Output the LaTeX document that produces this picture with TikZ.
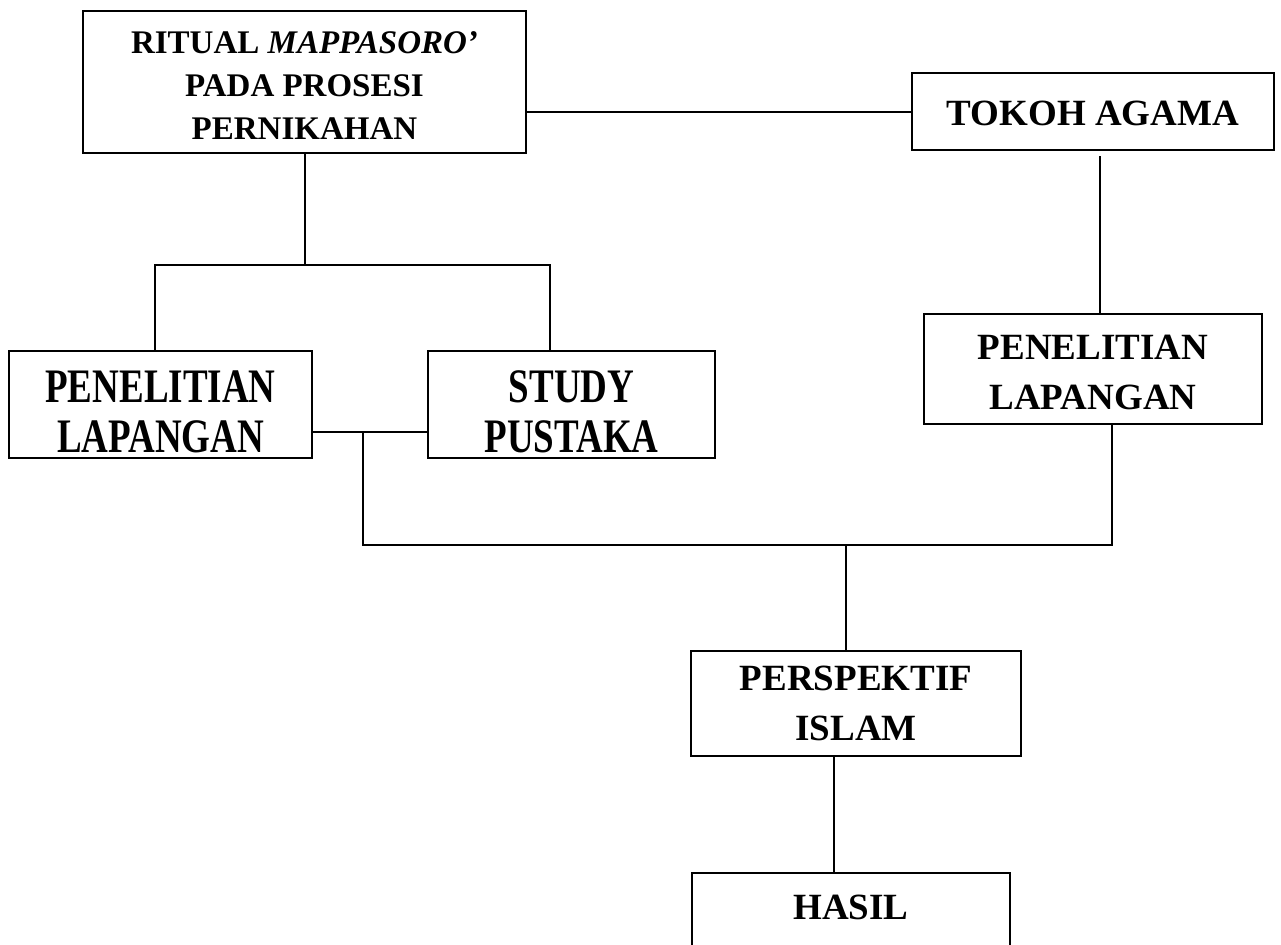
\documentclass[tikz,border=0pt]{standalone}
\usepackage{fontspec}
\usepackage{graphicx}
\setmainfont{Liberation Serif}
% tall condensed line, as in the two left boxes
\newcommand{\tallline}[1]{\scalebox{1}[1.3]{#1}}
\begin{document}
\begin{tikzpicture}[x=0.5pt, y=-0.5pt, line width=1pt,
  box/.style={draw, align=center, inner sep=0pt, font=\bfseries\fontsize{18.5}{25}\selectfont}]
  \useasboundingbox (0,0) rectangle (1281,944);
  \clip (0,0) rectangle (1281,944);

  % draw boxes
  \node[box, minimum width=221.5pt, minimum height=71pt, font=\bfseries\fontsize{16.5}{21.5}\selectfont]
    (ritual) at (304.5,82) {\rule{0pt}{14.9pt}RITUAL \textit{MAPPASORO’}\\PADA PROSESI\\PERNIKAHAN};
  \node[box, minimum width=181pt, minimum height=38.5pt] (tokoh) at (1093,111.5) {\rule{0pt}{14pt}TOKOH AGAMA};
  \node[box, minimum width=151.5pt, minimum height=53.5pt] (pen1) at (160.5,404.5)
    {\rule{0pt}{23.4pt}\tallline{PENELITIAN}\\\tallline{LAPANGAN}};
  \node[box, minimum width=143.5pt, minimum height=53.5pt] (study) at (571.5,404.5)
    {\rule{0pt}{23.4pt}\tallline{STUDY}\\\tallline{PUSTAKA}};
  \node[box, minimum width=169pt, minimum height=55pt] (pen2) at (1093,369) {\rule{0pt}{15.2pt}PENELITIAN\\LAPANGAN};
  \node[box, minimum width=165pt, minimum height=52.5pt] (persp) at (856,703.5) {PERSPEKTIF\\ISLAM};
  \node[box, minimum width=159pt, text height=23pt, text depth=40pt, anchor=north]
    (hasil) at (851,872) {HASIL};

  % junction points
  \coordinate (lt) at (155,265);
  \coordinate (rt) at (550,265);
  \coordinate (tk) at (1100,156);
  \coordinate (mid) at (363,432);
  \coordinate (jn) at (846,545);
  \coordinate (rb) at (1112,545);
  \coordinate (ph) at (834,757);

  % draw lines
  \draw (ritual.east |- tokoh.west) -- (tokoh.west);
  \draw (ritual.south) -- (ritual.south |- lt);
  \draw (lt |- pen1.north) -- (lt) -- (rt) -- (rt |- study.north);
  \draw (tk) -- (tk |- pen2.north);
  \draw (mid -| pen1.east) -- (mid -| study.west);
  \draw (mid) |- (rb) -- (rb |- pen2.south);
  \draw (jn) -- (jn |- persp.north);
  \draw (ph) -- (ph |- hasil.north);
\end{tikzpicture}
\end{document}
